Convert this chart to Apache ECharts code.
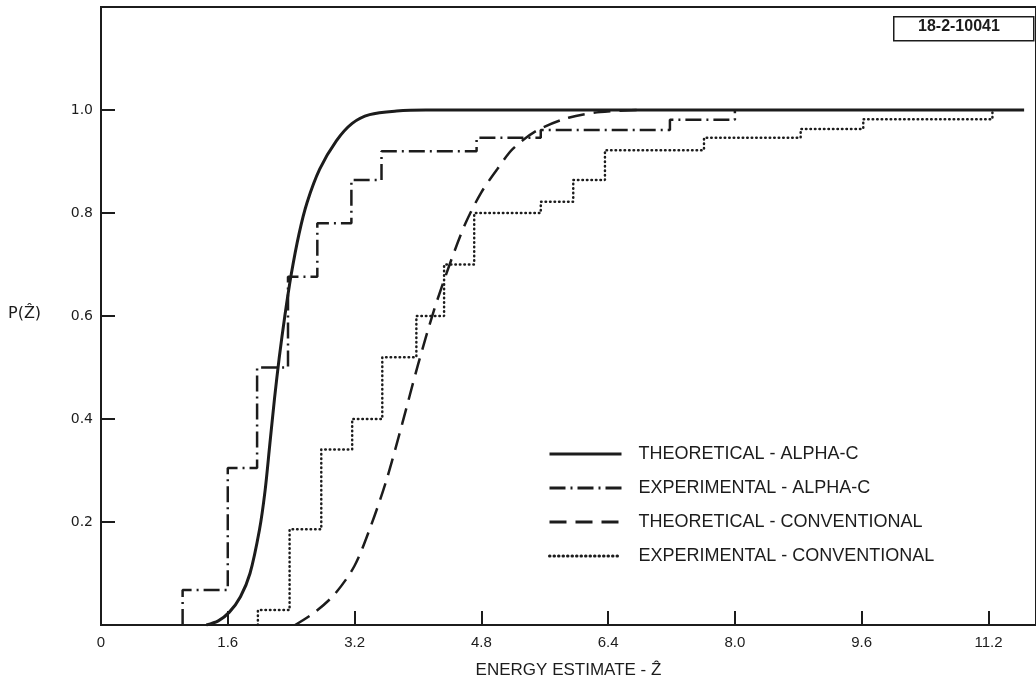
<!DOCTYPE html>
<html>
<head>
    <meta charset="UTF-8">
    <title>P(Z) - energy estimate</title>
    <script src="https://cdn.jsdelivr.net/npm/echarts@6/dist/echarts.min.js"></script>
    <style>
        html, body { margin: 0; padding: 0; background: #fff; }
        #chart { width: 1036px; height: 693px; }
    </style>
</head>
<body>
<div id="chart"></div>
<script>
    // tick labels
    var xTicks = [0, 1.6, 3.2, 4.8, 6.4, 8.0, 9.6, 11.2];
    var yTicks = [0.2, 0.4, 0.6, 0.8, 1.0];

    var seriesNames = [
        "THEORETICAL - ALPHA-C",
        "EXPERIMENTAL - ALPHA-C",
        "THEORETICAL - CONVENTIONAL",
        "EXPERIMENTAL - CONVENTIONAL"
    ];

    // theoretical alpha-C (solid)
    var thAlphaX = [1.33, 1.48, 1.62, 1.76, 1.88, 2.0, 2.07, 2.13, 2.19, 2.25, 2.32, 2.4, 2.5, 2.6, 2.76, 2.97, 3.17, 3.39, 3.73, 4.1, 11.65];
    var thAlphaY = [0, 0.008, 0.025, 0.055, 0.10, 0.185, 0.26, 0.35, 0.44, 0.52, 0.60, 0.68, 0.76, 0.82, 0.885, 0.94, 0.974, 0.991, 0.998, 1.0, 1.0];

    // experimental alpha-C (dash-dot steps): jump x, level after jump
    var exAlphaX = [1.03, 1.6, 1.97, 2.36, 2.73, 3.16, 3.54, 4.74, 5.55, 7.18, 8.0];
    var exAlphaY = [0.068, 0.305, 0.5, 0.676, 0.78, 0.864, 0.92, 0.946, 0.961, 0.981, 1.0];

    // theoretical conventional (dashed)
    var thConvX = [2.45, 2.7, 2.95, 3.2, 3.4, 3.6, 3.8, 4.0, 4.2, 4.4, 4.6, 4.8, 5.0, 5.2, 5.5, 5.9, 6.3, 6.8];
    var thConvY = [0, 0.025, 0.06, 0.115, 0.19, 0.28, 0.39, 0.505, 0.61, 0.70, 0.78, 0.84, 0.885, 0.925, 0.96, 0.985, 0.996, 1.0];

    // experimental conventional (dotted steps)
    var exConvX = [1.98, 2.38, 2.78, 3.17, 3.55, 3.98, 4.33, 4.71, 5.55, 5.96, 6.36, 7.61, 8.83, 9.62, 11.25];
    var exConvY = [0.029, 0.186, 0.341, 0.4, 0.52, 0.60, 0.70, 0.80, 0.822, 0.864, 0.922, 0.946, 0.963, 0.982, 1.0];

    var ink = "#1c1c1c";

    function pairs(xs, ys) {
        var out = [];
        for (var i = 0; i < xs.length; i++) {
            out.push([xs[i], ys[i]]);
        }
        return out;
    }
    // step data: start on the axis, then each jump point
    function steps(xs, ys) {
        var out = [[xs[0], 0]];
        for (var i = 0; i < xs.length; i++) {
            out.push([xs[i], ys[i]]);
        }
        return out;
    }

    var chart = echarts.init(document.getElementById("chart"));

    var option = {
        backgroundColor: "#ffffff",
        animation: false,
        color: [ink, ink, ink, ink],
        grid: {
            left: 101,
            right: -2,
            top: 7,
            bottom: 68,
            show: true,
            borderColor: ink,
            borderWidth: 2
        },
        xAxis: {
            type: "value",
            min: 0,
            max: 11.8,
            interval: 1.6,
            name: "ENERGY ESTIMATE - \u1E90",
            nameLocation: "middle",
            nameGap: 37,
            nameTextStyle: { color: ink, fontSize: 17, fontFamily: "Liberation Sans Narrow, Liberation Sans, sans-serif" },
            axisLine: { show: true, lineStyle: { color: ink, width: 2 } },
            axisTick: { show: true, inside: true, length: 14, lineStyle: { color: ink, width: 2 } },
            splitLine: { show: false },
            axisLabel: {
                color: ink,
                fontSize: 15,
                margin: 10,
                fontFamily: "Liberation Sans Narrow, Liberation Sans, sans-serif",
                showMaxLabel: false,
                formatter: function (v) {
                    for (var i = 0; i < xTicks.length; i++) {
                        if (Math.abs(xTicks[i] - v) < 1e-6) {
                            return v === 0 ? "0" : xTicks[i].toFixed(1);
                        }
                    }
                    return "";
                }
            }
        },
        yAxis: {
            type: "value",
            min: 0,
            max: 1.2,
            interval: 0.2,
            axisLine: { show: true, lineStyle: { color: ink, width: 2 } },
            axisTick: { show: true, inside: true, length: 14, lineStyle: { color: ink, width: 2 } },
            splitLine: { show: false },
            axisLabel: {
                color: ink,
                fontSize: 14,
                margin: 8,
                fontFamily: "DejaVu Sans, sans-serif",
                formatter: function (v) {
                    for (var i = 0; i < yTicks.length; i++) {
                        if (Math.abs(yTicks[i] - v) < 1e-6) {
                            return yTicks[i].toFixed(1);
                        }
                    }
                    return "";
                }
            }
        },
        legend: {
            orient: "vertical",
            left: 543,
            top: 440,
            itemWidth: 72,
            itemHeight: 14,
            itemGap: 16,
            itemStyle: { opacity: 0 },
            lineStyle: { width: 3 },
            textStyle: { color: ink, fontSize: 18, fontFamily: "Liberation Sans, sans-serif", padding: [0, 0, 0, 12] },
            data: seriesNames
        },
        series: [
            {
                name: seriesNames[0],
                type: "line",
                symbol: "none",
                smooth: 0.3,
                lineStyle: { color: ink, width: 3 },
                data: pairs(thAlphaX, thAlphaY)
            },
            {
                name: seriesNames[1],
                type: "line",
                symbol: "none",
                step: "end",
                lineStyle: { color: ink, width: 2.5, type: [16, 5, 2, 5] },
                data: steps(exAlphaX, exAlphaY)
            },
            {
                name: seriesNames[2],
                type: "line",
                symbol: "none",
                smooth: 0.3,
                lineStyle: { color: ink, width: 2.5, type: [17, 9] },
                data: pairs(thConvX, thConvY)
            },
            {
                name: seriesNames[3],
                type: "line",
                symbol: "none",
                step: "end",
                lineStyle: { color: ink, width: 2.5, type: [0.5, 4], cap: "round" },
                data: steps(exConvX, exConvY)
            }
        ],
        graphic: [
            {
                type: "text",
                left: 8,
                top: 306,
                style: { text: "P(\u1E90)", fill: ink, fontSize: 16, fontFamily: "DejaVu Sans, sans-serif" }
            },
            {
                type: "rect",
                left: 893,
                top: 16,
                shape: { width: 140, height: 24 },
                style: { fill: "#fff", stroke: ink, lineWidth: 1.5 }
            },
            {
                type: "text",
                left: 918,
                top: 19,
                style: { text: "18-2-10041", fill: ink, fontSize: 16, fontWeight: "bold", fontFamily: "Liberation Sans Narrow, Liberation Sans, sans-serif" }
            }
        ]
    };

    chart.setOption(option);
</script>
</body>
</html>
